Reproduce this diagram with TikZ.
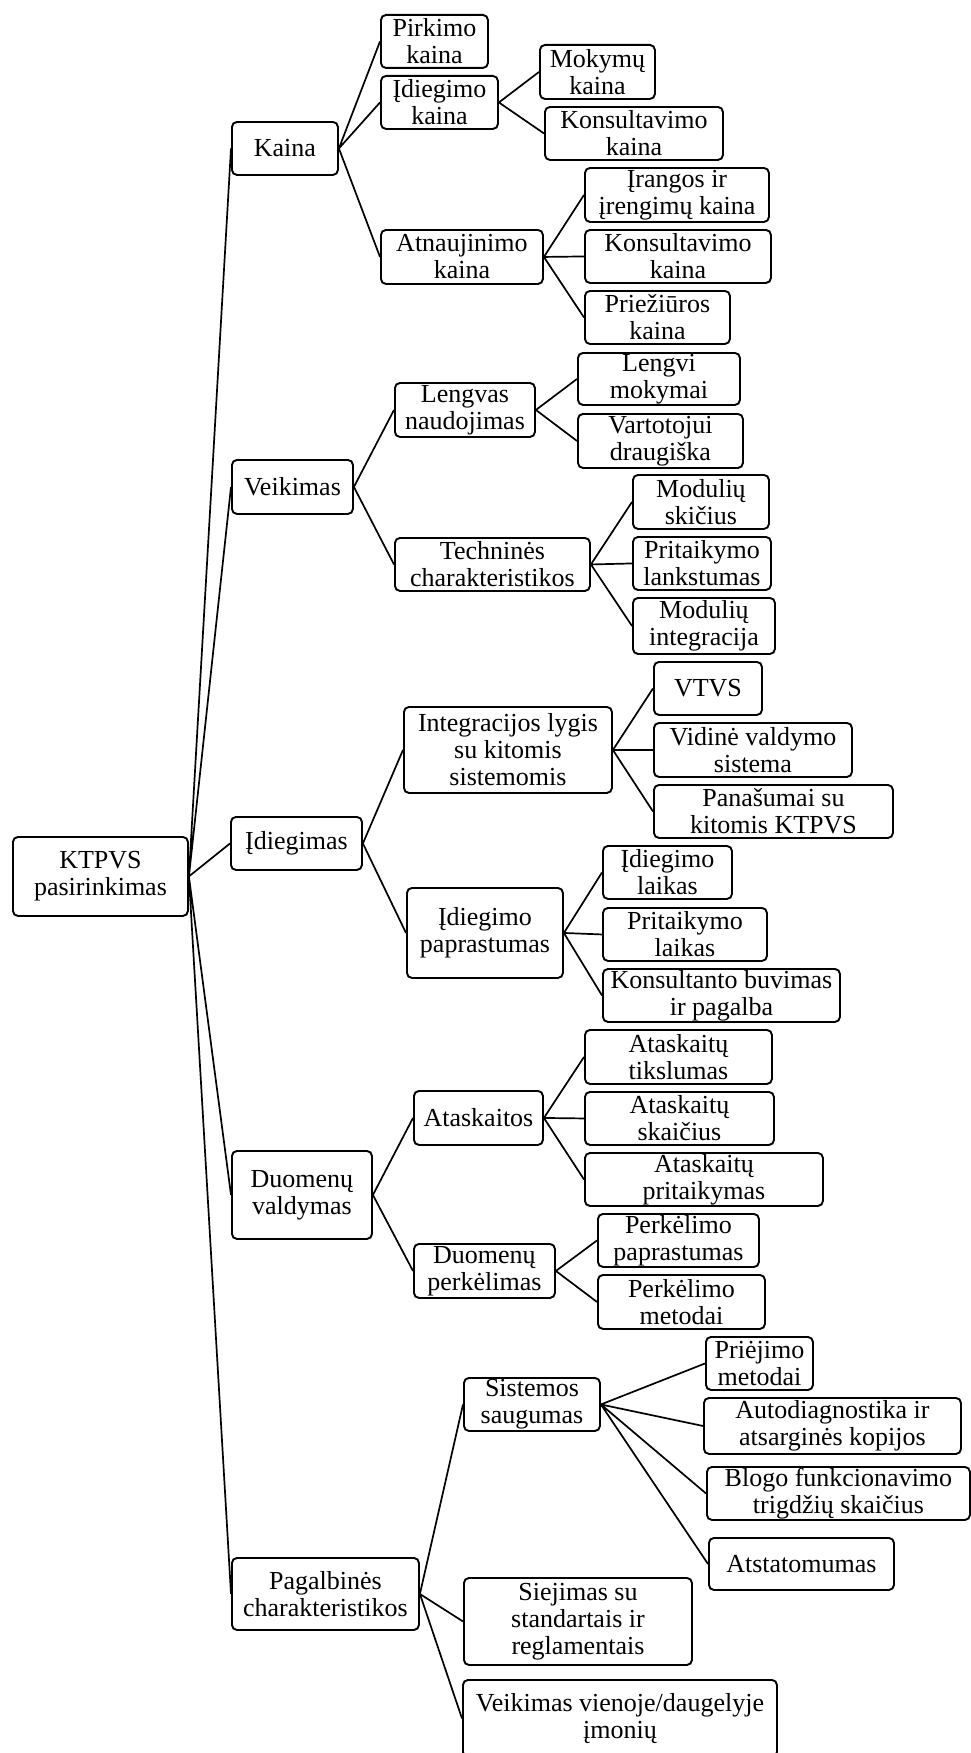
\documentclass[tikz,border=0pt]{standalone}
\usepackage{fontspec}
\setmainfont{Liberation Serif}
\usepackage{tikz}
\usetikzlibrary{positioning}

\begin{document}
\begin{tikzpicture}[x=1pt, y=-1pt, font=\fontsize{26}{27}\selectfont, box/.style={draw, rounded corners=5pt, align=center, anchor=north west, inner sep=0pt, line width=1.9pt}, link/.style={line width=1.7pt}]
\useasboundingbox (0,0) rectangle (971,1753);
\node[box, minimum width=175, minimum height=79] (root) at (12,836) {KTPVS\\pasirinkimas};
\node[box, minimum width=106, minimum height=53] (kaina) at (231,121) {Kaina};
\node[box, minimum width=107, minimum height=53] (pirk) at (380,14) {Pirkimo\\kaina};
\node[box, minimum width=117, minimum height=53] (idk) at (380,75) {Įdiegimo\\kaina};
\node[box, minimum width=115, minimum height=54] (mok) at (539,44) {Mokymų\\kaina};
\node[box, minimum width=178, minimum height=53] (konsa) at (544,106) {Konsultavimo\\kaina};
\node[box, minimum width=162, minimum height=54] (atn) at (380,229) {Atnaujinimo\\kaina};
\node[box, minimum width=184, minimum height=54] (irang) at (584,167) {Įrangos ir\\įrengimų kaina};
\node[box, minimum width=186, minimum height=53] (konsb) at (584,229) {Konsultavimo\\kaina};
\node[box, minimum width=145, minimum height=53] (priez) at (584,290) {Priežiūros\\kaina};
\node[box, minimum width=121, minimum height=54] (veik) at (231,459) {Veikimas};
\node[box, minimum width=140, minimum height=54] (leng) at (394,382) {Lengvas\\naudojimas};
\node[box, minimum width=162, minimum height=52] (lmok) at (577,352) {Lengvi\\mokymai};
\node[box, minimum width=165, minimum height=54] (vart) at (577,413) {Vartotojui\\draugiška};
\node[box, minimum width=195, minimum height=53] (tech) at (394,537) {Techninės\\charakteristikos};
\node[box, minimum width=136, minimum height=54] (mskic) at (632,474) {Modulių\\skičius};
\node[box, minimum width=138, minimum height=53] (plank) at (632,536) {Pritaikymo\\lankstumas};
\node[box, minimum width=142, minimum height=56] (minteg) at (632,597) {Modulių\\integracija};
\node[box, minimum width=131, minimum height=53] (idieg) at (230,816) {Įdiegimas};
\node[box, minimum width=208, minimum height=86] (integ) at (403,706) {Integracijos lygis\\su kitomis\\sistemomis};
\node[box, minimum width=108, minimum height=53] (vtvs) at (653,661) {VTVS};
\node[box, minimum width=198, minimum height=54] (vidine) at (653,722) {Vidinė valdymo\\sistema};
\node[box, minimum width=239, minimum height=53] (panas) at (653,784) {Panašumai su\\kitomis KTPVS};
\node[box, minimum width=156, minimum height=90] (iprast) at (406,887) {Įdiegimo\\paprastumas};
\node[box, minimum width=129, minimum height=53] (ilaik) at (602,845) {Įdiegimo\\laikas};
\node[box, minimum width=164, minimum height=53] (plaik) at (602,907) {Pritaikymo\\laikas};
\node[box, minimum width=237, minimum height=53] (konsbuv) at (602,968) {Konsultanto buvimas\\ir pagalba};
\node[box, minimum width=140, minimum height=88] (duom) at (231,1150) {Duomenų\\valdymas};
\node[box, minimum width=129, minimum height=54] (atask) at (413,1090) {Ataskaitos};
\node[box, minimum width=187, minimum height=54] (atiksl) at (584,1029) {Ataskaitų\\tikslumas};
\node[box, minimum width=189, minimum height=53] (askaic) at (584,1091) {Ataskaitų\\skaičius};
\node[box, minimum width=238, minimum height=53] (aprit) at (584,1152) {Ataskaitų\\pritaikymas};
\node[box, minimum width=141, minimum height=54] (perk) at (413,1243) {Duomenų\\perkėlimas};
\node[box, minimum width=161, minimum height=53] (pprast) at (597,1213) {Perkėlimo\\paprastumas};
\node[box, minimum width=167, minimum height=54] (pmet) at (597,1274) {Perkėlimo\\metodai};
\node[box, minimum width=187, minimum height=72] (pagalb) at (231,1557) {Pagalbinės\\charakteristikos};
\node[box, minimum width=136, minimum height=53] (saug) at (463,1377) {Sistemos\\saugumas};
\node[box, minimum width=107, minimum height=53] (priej) at (705,1336) {Priėjimo\\metodai};
\node[box, minimum width=257, minimum height=56] (autod) at (703,1397) {Autodiagnostika ir\\atsarginės kopijos};
\node[box, minimum width=263, minimum height=53] (blogo) at (706,1466) {Blogo funkcionavimo\\trigdžių skaičius};
\node[box, minimum width=185, minimum height=52] (atstat) at (708,1537) {Atstatomumas};
\node[box, minimum width=228, minimum height=87] (siej) at (463,1577) {Siejimas su\\standartais ir\\reglamentais};
\node[box, minimum width=314, minimum height=77] (vienoj) at (462,1679) {Veikimas vienoje/daugelyje\\įmonių};
\draw[link] (root.east) -- (kaina.west) (root.east) -- (veik.west) (root.east) -- (idieg.west) (root.east) -- (duom.west) (root.east) -- (pagalb.west);
\draw[link] (kaina.east) -- (pirk.west) (kaina.east) -- (idk.west) (kaina.east) -- (atn.west);
\draw[link] (idk.east) -- (mok.west) (idk.east) -- (konsa.west);
\draw[link] (atn.east) -- (irang.west) (atn.east) -- (konsb.west) (atn.east) -- (priez.west);
\draw[link] (veik.east) -- (leng.west) (veik.east) -- (tech.west);
\draw[link] (leng.east) -- (lmok.west) (leng.east) -- (vart.west);
\draw[link] (tech.east) -- (mskic.west) (tech.east) -- (plank.west) (tech.east) -- (minteg.west);
\draw[link] (idieg.east) -- (integ.west) (idieg.east) -- (iprast.west);
\draw[link] (integ.east) -- (vtvs.west) (integ.east) -- (vidine.west) (integ.east) -- (panas.west);
\draw[link] (iprast.east) -- (ilaik.west) (iprast.east) -- (plaik.west) (iprast.east) -- (konsbuv.west);
\draw[link] (duom.east) -- (atask.west) (duom.east) -- (perk.west);
\draw[link] (atask.east) -- (atiksl.west) (atask.east) -- (askaic.west) (atask.east) -- (aprit.west);
\draw[link] (perk.east) -- (pprast.west) (perk.east) -- (pmet.west);
\draw[link] (pagalb.east) -- (saug.west) (pagalb.east) -- (siej.west) (pagalb.east) -- (vienoj.west);
\draw[link] (saug.east) -- (priej.west) (saug.east) -- (autod.west) (saug.east) -- (blogo.west) (saug.east) -- (atstat.west);
\end{tikzpicture}
\end{document}
